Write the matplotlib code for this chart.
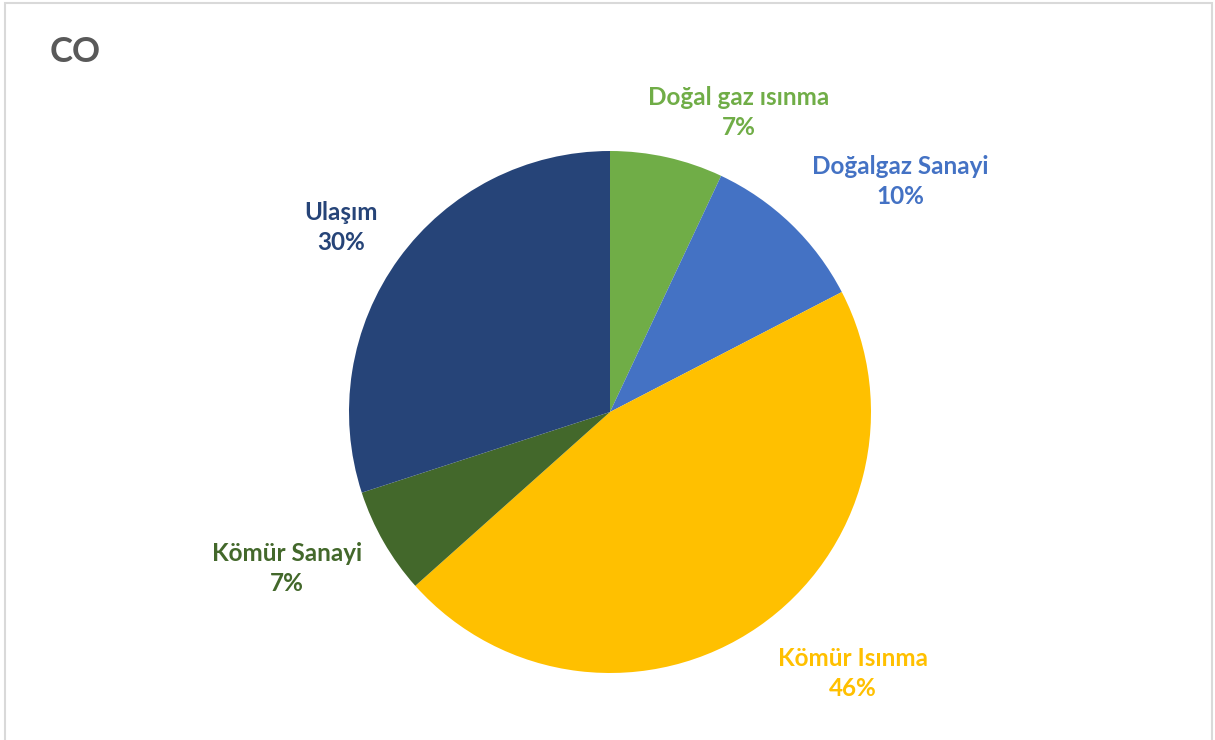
import matplotlib.pyplot as plt
from matplotlib.patches import Rectangle

labels = ["Doğal gaz ısınma", "Doğalgaz Sanayi", "Kömür Isınma", "Kömür Sanayi", "Ulaşım"]
values = [7.0, 10.4, 46.0, 6.6, 30.0]
pct_text = ["7%", "10%", "46%", "7%", "30%"]
colors = ["#70AD47", "#4472C4", "#FFC000", "#43682B", "#264478"]

# label centres (name line, percent line) in pie-radius units
label_x = [0.494, 1.111, 0.931, -1.238, -1.031]
label_y = [1.148, 0.885, -1.002, -0.601, 0.707]

fig = plt.figure(figsize=(12.15, 7.40), dpi=100)
fig.patch.set_facecolor("white")

# outer frame
fig.add_artist(Rectangle((5 / 1215, -0.01), 1207 / 1215, 1 - 3 / 740 + 0.01,
                         transform=fig.transFigure, fill=False,
                         edgecolor="#D9D9D9", linewidth=1.5))

fig.text(50 / 1215, 1 - 52 / 740, "CO", fontsize=25, fontweight="bold",
         color="#595959", family="Lato", va="center", ha="left")

ax = fig.add_axes([(610 - 261) / 1215, (740 - 412 - 261) / 740, 522 / 1215, 522 / 740])
ax.pie(values, colors=colors, startangle=90, counterclock=False, radius=1,
       wedgeprops=dict(linewidth=0))
ax.set_xlim(-1, 1)
ax.set_ylim(-1, 1)
ax.set_aspect("equal")
ax.axis("off")

for i in range(len(labels)):
    ax.text(label_x[i], label_y[i], labels[i] + "\n" + pct_text[i],
            ha="center", va="center", color=colors[i], fontsize=17.5,
            fontweight="bold", family="Lato", linespacing=1.37, clip_on=False)

plt.savefig("out.png", dpi=100)
